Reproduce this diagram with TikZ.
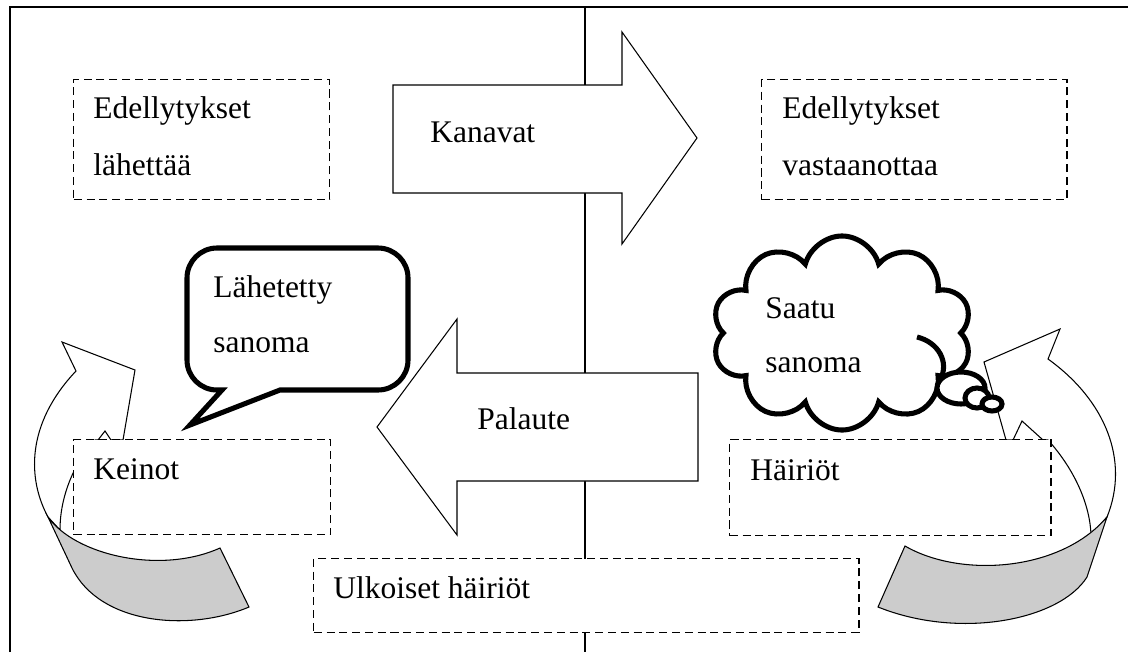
\documentclass[tikz,border=0pt]{standalone}
\usepackage{fontspec}
\setmainfont{Liberation Serif}
\usetikzlibrary{shapes.symbols}

\begin{document}
\begin{tikzpicture}
    [ x=0.025cm, y=-0.025cm
    , every node/.style={font=\fontsize{22.4}{40}\selectfont, inner sep=0pt}
    , txt/.style={anchor=base west}
    , dbox/.style={draw, dash pattern=on 5.7pt off 3.4pt, fill=white, line width=1pt, anchor=north west}
    , block/.style={draw, fill=white, line width=0.75pt, line join=miter}
    , grayband/.style={draw, fill=black!20, line width=0.75pt}
    , thought/.style={draw, fill=white, line width=3.6pt}
    ]
    \useasboundingbox (0,0) rectangle (1128,652);
    % frame and middle line
    \draw [line width=1.1pt] (10,652) -- (10,7) -- (1128,7);
    \draw [line width=1.1pt] (585,7) -- (585,652);
    % big arrows
    \draw [block] (393,85) -- (622,85) -- (622,32) -- (697,138)
        -- (622,244) -- (622,193) -- (393,193) -- cycle;
    \draw [block] (698,373) -- (457,373) -- (457,319) -- (377,427)
        -- (457,535) -- (457,481) -- (698,481) -- cycle;
    % curved arrows
    \draw [block] (76,371) -- (62,342) -- (135,370) -- (123,440) -- (95,440)
        .. controls (75,462) and (60,495) .. (60,530) -- (48,517)
        .. controls (28,480) and (25,425) .. (76,371) -- cycle;
    \draw [grayband] (48,517) .. controls (75,555) and (160,575) .. (220,548)
        -- (249,607) .. controls (190,632) and (100,625) .. (72,568) -- cycle;
    \draw [block] (98,440) -- (105,431) -- (111,440);
    \draw [block] (1048,359) -- (1060,329) -- (984,362) -- (1006,440) -- (1048,440)
        .. controls (1075,470) and (1090,505) .. (1091,535) -- (1107,517)
        .. controls (1130,460) and (1105,400) .. (1048,359) -- cycle;
    \draw [grayband] (905,546) .. controls (960,578) and (1060,572) .. (1107,517)
        -- (1087,577) .. controls (1060,620) and (960,640) .. (878,607) -- cycle;
    \draw [block] (1013,440) -- (1022,421) -- (1043,440);
    % dashed boxes
    \node [dbox, minimum width=6.4cm,   minimum height=3cm]     (sendbox) at (73,79) {};
    \node [dbox, minimum width=7.625cm, minimum height=3cm]     (recvbox) at (761,79) {};
    \node [dbox, minimum width=6.425cm, minimum height=2.375cm] (meansbox) at (73,439) {};
    \node [dbox, minimum width=8.025cm, minimum height=2.4cm]   (noisebox) at (729,439) {};
    \node [dbox, minimum width=13.625cm, minimum height=1.85cm] (outbox) at (313,558) {};
    % speech bubble
    \draw [thought, line join=miter] (222,390) -- (190,425) -- (280,390)
        {[rounded corners=0.75cm] -- (408,390) -- (408,248) -- (187,248) -- (187,390)} -- cycle;
    % cloud
    \node [thought, cloud, cloud puffs=10, aspect=1.5,
           minimum width=6.5cm, minimum height=4.85cm] (cloud) at (842,333) {};
    \draw [line width=3.6pt] (917,337) .. controls (938,342) and (950,362) .. (940,380);
    \draw [thought] (961,388) ellipse [x radius=24, y radius=16];
    \draw [thought] (977,398) ellipse [x radius=12, y radius=10];
    \draw [thought] (992,404) ellipse [x radius=10, y radius=7];
    % texts
    \node [txt] (send1) at (93,118) {Edellytykset};
    \node [txt] (send2) at (93,175) {lähettää};
    \node [txt] (recv1) at (782,118) {Edellytykset};
    \node [txt] (recv2) at (782,175) {vastaanottaa};
    \node [txt] (channels) at (430,142) {Kanavat};
    \node [txt] (feedback) at (477,429) {Palaute};
    \node [txt] (means) at (93,479) {Keinot};
    \node [txt] (noise) at (750,480) {Häiriöt};
    \node [txt] (outnoise) at (333,598) {Ulkoiset häiriöt};
    \node [txt] (sent1) at (213,297) {Lähetetty};
    \node [txt] (sent2) at (213,352) {sanoma};
    \node [txt] (got1) at (765,318) {Saatu};
    \node [txt] (got2) at (765,372) {sanoma};
  \end{tikzpicture}
\end{document}
